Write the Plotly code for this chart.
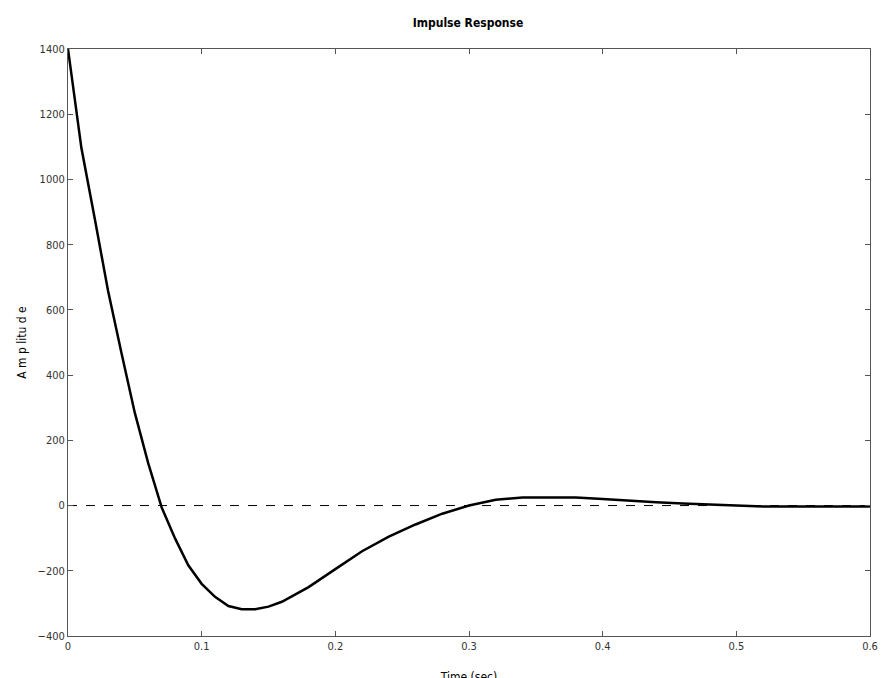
import plotly.graph_objects as go

t = [0, 0.01, 0.02, 0.03, 0.04, 0.05, 0.06, 0.07, 0.08, 0.09, 0.10, 0.11, 0.12, 0.13, 0.14,
     0.15, 0.16, 0.18, 0.20, 0.22, 0.24, 0.26, 0.28, 0.30, 0.32, 0.34, 0.36, 0.38, 0.40,
     0.42, 0.44, 0.46, 0.48, 0.50, 0.52, 0.54, 0.56, 0.58, 0.60]
amp = [1400, 1097, 880, 658, 468, 284, 130, -5, -100, -183, -240, -280, -308, -318, -318,
       -310, -295, -250, -195, -140, -95, -58, -25, 0, 18, 25, 25, 25, 20,
       14, 10, 6, 2, 0, -3, -3, -3, -3, -3]
xticks = [0, 0.1, 0.2, 0.3, 0.4, 0.5, 0.6]
yticks = [-400, -200, 0, 200, 400, 600, 800, 1000, 1200, 1400]

FONT = "Liberation Sans Narrow, DejaVu Sans Condensed, Arial Narrow, sans-serif"
fig = go.Figure()
fig.add_trace(go.Scatter(x=[0, 0.6], y=[0, 0], mode="lines",
                         line=dict(color="black", width=1, dash="dash"), hoverinfo="skip"))
fig.add_trace(go.Scatter(x=t, y=amp, mode="lines", line=dict(color="black", width=2.5)))
axis = dict(showgrid=False, zeroline=False, showline=True, linecolor="#555", linewidth=1,
            mirror="ticks", ticks="inside", ticklen=5, tickcolor="#555", automargin=False,
            tickfont=dict(family=FONT, size=11, color="#333"))
fig.update_layout(
    width=888, height=678, plot_bgcolor="white", paper_bgcolor="white", showlegend=False,
    margin=dict(l=60, r=26, t=41, b=50),
    title=dict(text="<b>Impulse Response</b>", x=0.518, xanchor="center", y=0.985, yanchor="top",
               font=dict(family=FONT, size=12, color="black")),
    xaxis=dict(axis, range=[0, 0.6], tickvals=xticks, ticktext=[str(v) for v in xticks],
               title=dict(text="Time (sec)", font=dict(family=FONT, size=12, color="black"), standoff=20)),
    yaxis=dict(axis, range=[-400, 1400], tickvals=yticks,
               title=dict(text="A m p litu d e", font=dict(family=FONT, size=12, color="black"), standoff=8)),
)
fig.write_html("out.html")
